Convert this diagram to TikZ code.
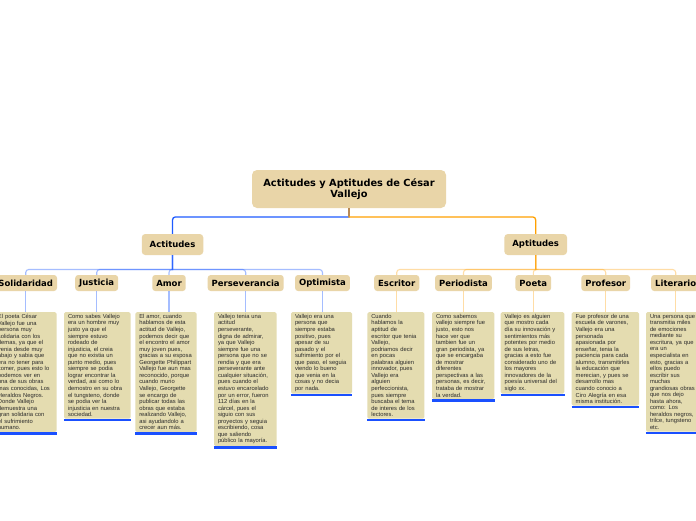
\documentclass[tikz,border=0pt]{standalone}
\usepackage{fontspec}
\setmainfont{Liberation Sans}
\newfontfamily\headfont{DejaVu Sans}
\definecolor{headfill}{HTML}{E9D5A8}
\definecolor{descfill}{HTML}{E4DCB0}
\definecolor{linkblue}{HTML}{1E5BFF}
\definecolor{linkorange}{HTML}{FFA000}
\definecolor{stembrown}{HTML}{B98A55}
\definecolor{textgray}{HTML}{2A2A2A}
\definecolor{barblue}{HTML}{1A50FF}
\tikzset{
  rootbox/.style={fill=headfill, rounded corners=5pt, minimum width=194pt, minimum height=38pt,
    inner sep=0pt, align=center, text=black, font=\headfont\bfseries\fontsize{9.8}{11.7}\selectfont},
  mainbox/.style={fill=headfill, rounded corners=3.5pt, minimum height=21pt, inner xsep=4pt,
    inner ysep=0pt, text=black, font=\headfont\bfseries\fontsize{8.5}{10}\selectfont},
  labelbox/.style={fill=headfill, rounded corners=3pt, minimum height=16pt, inner xsep=4pt,
    inner ysep=0pt, text=black, font=\headfont\bfseries\fontsize{8.5}{10}\selectfont},
  descbox/.style={fill=descfill, rounded corners=1.5pt, anchor=north, inner xsep=4pt, inner ysep=2pt,
    align=left, text=textgray, font=\fontsize{5.8}{6.55}\selectfont},
  bluemain/.style={draw=linkblue, line width=1.3pt},
  orangemain/.style={draw=linkorange, line width=1.3pt},
  bluechild/.style={draw=linkblue, draw opacity=0.4, line width=1.1pt},
  orangechild/.style={draw=linkorange, draw opacity=0.35, line width=1.1pt},
  stemline/.style={draw=stembrown, line width=1.3pt},
  barline/.style={draw=barblue, line width=2.6pt},
}
\begin{document}
\begin{tikzpicture}[x=1pt,y=-1pt]
\useasboundingbox (0,0) rectangle (696,520);
\fill[white] (0,0) rectangle (696,520);
\begin{scope}
\clip (0,0) rectangle (696,520);

% main nodes
\node[rootbox] (root) at (349,189) {Actitudes y Aptitudes de César\\Vallejo};
\node[mainbox, minimum width=61.5pt] (act) at (172.5,244.5) {Actitudes};
\node[mainbox, minimum width=62.7pt] (apt) at (535.7,244.5) {Aptitudes};

% labels
\node[labelbox] (c1) at (25.7,283) {Solidaridad};
\node[labelbox] (c2) at (96.7,283) {Justicia};
\node[labelbox] (c3) at (169,283) {Amor};
\node[labelbox] (c4) at (245.7,283) {Perseverancia};
\node[labelbox] (c5) at (322.5,283) {Optimista};
\node[labelbox] (c6) at (396.7,283) {Escritor};
\node[labelbox] (c7) at (463.5,283) {Periodista};
\node[labelbox] (c8) at (533.3,283) {Poeta};
\node[labelbox] (c9) at (605.7,283) {Profesor};
\node[labelbox] (c10) at (675.7,283) {Literario};

% descriptions
\node[descbox, text width=54.7pt] (d1) at (25.35,312) {El poeta César\\Vallejo fue una\\persona muy\\solidaria con los\\demas, ya que el\\venia desde muy\\abajo y sabia que\\era no tener para\\comer, pues esto lo\\podemos ver en\\una de sus obras\\mas conocidas, Los\\Heraldos Negros.\\Donde Vallejo\\demuestra una\\gran solidaria con\\el sufrimiento\\humano.};
\node[descbox, text width=58.7pt] (d2) at (97.35,312) {Como sabes Vallejo\\era un hombre muy\\justo ya que el\\siempre estuvo\\rodeado de\\injusticia, el creia\\que no existia un\\punto medio, pues\\siempre se podia\\lograr encontrar la\\verdad, asi como lo\\demostro en su obra\\el tungsteno, donde\\se podia ver la\\injusticia en nuestra\\sociedad.};
\node[descbox, text width=53.4pt] (d3) at (166,312) {El amor, cuando\\hablamos de esta\\actitud de Vallejo,\\podemos decir que\\el encontro el amor\\muy joven pues,\\gracias a su esposa\\Georgette Philippart\\Vallejo fue aun mas\\reconocido, porque\\cuando murio\\Vallejo, Georgette\\se encargo de\\publicar todas las\\obras que estaba\\realizando Vallejo,\\asi ayudandolo a\\crecer aun más.};
\node[descbox, text width=54.7pt] (d4) at (245.35,312) {Vallejo tenia una\\actitud\\perseverante,\\digna de admirar,\\ya que Vallejo\\siempre fue una\\persona que no se\\rendia y que era\\perseverante ante\\cualquier situación,\\pues cuando el\\estuvo encarcelado\\por un error, fueron\\112 días en la\\cárcel, pues el\\siguio con sus\\proyectos y seguia\\escribiendo, cosa\\que saliendo\\público la mayoría.};
\node[descbox, text width=53pt] (d5) at (321.5,312) {Vallejo era una\\persona que\\siempre estaba\\positivo, pues\\apesar de su\\pasado y el\\sufrimiento por el\\que paso, el seguia\\viendo lo bueno\\que venia en la\\cosas y no decia\\por nada.};
\node[descbox, text width=49pt] (d6) at (395.8,312) {Cuando\\hablamos la\\aptitud de\\escritor que tenia\\Vallejo,\\podriamos decir\\en pocas\\palabras alguien\\innovador, pues\\Vallejo era\\alguien\\perfeccionista,\\pues siempre\\buscaba el tema\\de interes de los\\lectores.};
\node[descbox, text width=54.3pt] (d7) at (463.15,312) {Como sabemos\\vallejo siempre fue\\justo, esto nos\\hace ver que\\tambien fue un\\gran periodista, ya\\que se encargaba\\de mostrar\\diferentes\\perspectivas a las\\personas, es decir,\\trataba de mostrar\\la verdad.};
\node[descbox, text width=55.6pt] (d8) at (532.5,312) {Vallejo es alguien\\que mostro cada\\día su innovación y\\sentimientos más\\potentes por medio\\de sus letras,\\gracias a esto fue\\considerado uno de\\los mayores\\innovadores de la\\poesía universal del\\siglo xx.};
\node[descbox, text width=59.3pt] (d9) at (605.35,312) {Fue profesor de una\\escuela de varones,\\Vallejo era una\\personada\\apasionada por\\enseñar, tenia la\\paciencia para cada\\alumno, transmitirles\\la educación que\\merecian, y pues se\\desarrollo mas\\cuando conocio a\\Ciro Alegría en esa\\misma institución.};
\node[descbox, text width=56pt] (d10) at (678,312) {Una persona que\\transmitia miles\\de emociones\\mediante su\\escritura, ya que\\era un\\especialista en\\esto, gracias a\\ellos puedo\\escribir sus\\muchas\\grandiosas obras\\que nos dejo\\hasta ahora,\\como: Los\\heraldos negros,\\trilce, tungsteno\\etc.};

% blue bars
\foreach \d in {d1,d2,d3,d4,d5,d6,d7,d8,d9,d10}{
  \draw[barline] ([yshift=-1.2pt]\d.south west) -- ([yshift=-1.2pt]\d.south east);
}

% main connectors
\draw[bluemain] (root.south) -- ++(0,8.7) [rounded corners=3pt] -| (act.north);
\draw[orangemain] (root.south) -- ++(0,8.7) [rounded corners=3pt] -| (apt.north);
\draw[stemline] (root.south) -- ++(0,8.2);

% child connectors
\foreach \c/\d in {c1/d1,c2/d2,c3/d3,c4/d4,c5/d5}{
  \draw[bluechild] (act.south) -- ++(0,14.3) [rounded corners=3pt] -| (\c.north);
  \draw[bluechild] (\c.south) -- (\c.south |- \d.north);
}
\foreach \c/\d in {c6/d6,c7/d7,c8/d8,c9/d9,c10/d10}{
  \draw[orangechild] (apt.south) -- ++(0,14.3) [rounded corners=3pt] -| (\c.north);
  \draw[orangechild] (\c.south) -- (\c.south |- \d.north);
}
\end{scope}
\end{tikzpicture}
\end{document}
